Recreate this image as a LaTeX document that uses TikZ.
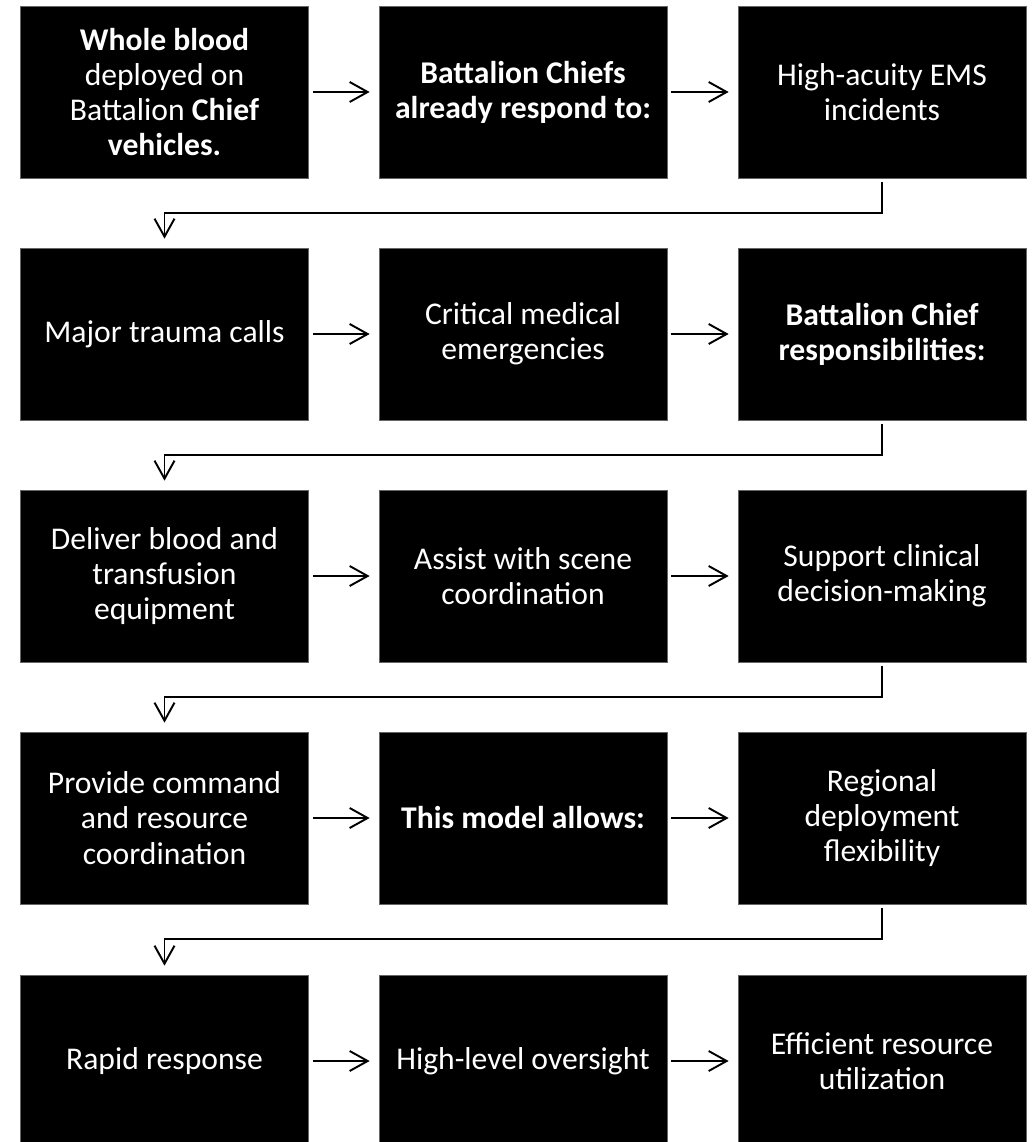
\documentclass[tikz,border=0pt]{standalone}
\usepackage{fontspec}
\setmainfont{Carlito}
\usepackage{tikz}
\usetikzlibrary{arrows.meta, positioning}

\begin{document}
\begin{tikzpicture}[
  box/.style={rectangle, fill=black, draw=black!60, line width=0.4pt, text=white,
    align=center, minimum width=5.76cm, minimum height=3.44cm, inner sep=0pt,
    font=\fontsize{18}{20}\selectfont},
  flow/.style={-{Straight Barb[length=3.6mm,width=4mm]}, line width=1.1pt,
    shorten <=0.08cm, shorten >=0.18cm}
]
  \useasboundingbox (0,0) rectangle (20.7,-22.84);

  % row 1
  \node[box] (Whole) at (3.29,-1.84) {\textbf{Whole blood}\\deployed on\\Battalion \textbf{Chief}\\\textbf{vehicles.}};
  \node[box] (Respond) at (10.46,-1.84) {\textbf{Battalion Chiefs}\\\textbf{already respond to:}};
  \node[box] (EMS) at (17.64,-1.84) {High-acuity EMS\\incidents};
  % row 2
  \node[box] (Trauma) at (3.29,-6.68) {Major trauma calls};
  \node[box] (Critical) at (10.46,-6.68) {Critical medical\\emergencies};
  \node[box] (Duties) at (17.64,-6.68) {\textbf{Battalion Chief}\\\textbf{responsibilities:}};
  % row 3
  \node[box] (Deliver) at (3.29,-11.52) {Deliver blood and\\transfusion\\equipment};
  \node[box] (Scene) at (10.46,-11.52) {Assist with scene\\coordination};
  \node[box] (Clinical) at (17.64,-11.52) {Support clinical\\decision-making};
  % row 4
  \node[box] (Command) at (3.29,-16.36) {Provide command\\and resource\\coordination};
  \node[box] (Model) at (10.46,-16.36) {\textbf{This model allows:}};
  \node[box] (Regional) at (17.64,-16.36) {Regional\\deployment\\flexibility};
  % row 5
  \node[box] (Rapid) at (3.29,-21.22) {Rapid response};
  \node[box] (Oversight) at (10.46,-21.22) {High-level oversight};
  \node[box] (Efficient) at (17.64,-21.22) {Efficient resource\\utilization};

  % arrows along the rows
  \draw[flow] (Whole) -- (Respond);
  \draw[flow] (Respond) -- (EMS);
  \draw[flow] (Trauma) -- (Critical);
  \draw[flow] (Critical) -- (Duties);
  \draw[flow] (Deliver) -- (Scene);
  \draw[flow] (Scene) -- (Clinical);
  \draw[flow] (Command) -- (Model);
  \draw[flow] (Model) -- (Regional);
  \draw[flow] (Rapid) -- (Oversight);
  \draw[flow] (Oversight) -- (Efficient);

  % wrap to the next row
  \draw[flow] (EMS.south) -- ++(0,-0.7) -| (Trauma.north);
  \draw[flow] (Duties.south) -- ++(0,-0.7) -| (Deliver.north);
  \draw[flow] (Clinical.south) -- ++(0,-0.7) -| (Command.north);
  \draw[flow] (Regional.south) -- ++(0,-0.7) -| (Rapid.north);
\end{tikzpicture}
\end{document}
